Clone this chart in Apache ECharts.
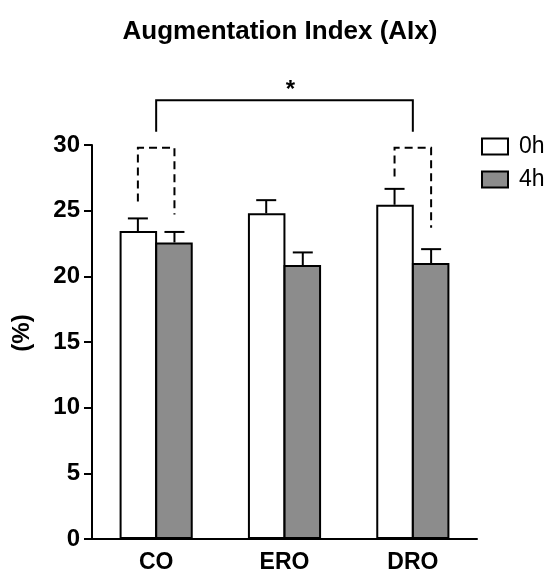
<!DOCTYPE html>
<html>
<head>
<meta charset="utf-8">
<script src="https://cdn.jsdelivr.net/npm/echarts@6/dist/echarts.min.js"></script>
<style>html,body{margin:0;padding:0;background:#fff;}#c{width:550px;height:574px;}</style>
</head>
<body>
<div id="c"></div>
<script>
// ---- data ----
const categories = ['CO', 'ERO', 'DRO'];
const seriesNames = ['0h', '4h'];
const mean0h = [23.45, 24.8, 25.45];
const mean4h = [22.58, 20.86, 21.01];
const sem0h = [0.96, 1.0, 1.21];
const sem4h = [0.8, 0.96, 1.06];
const yTicks = [0, 5, 10, 15, 20, 25, 30];
// significance bracket (solid) between CO and DRO
const sigCats = ['CO', 'DRO'];
const sigTop = 33.4;
const sigLegEnd = [31.0, 31.0];
const sigLabel = '*';
const sigLabelY = 34.5;
// dashed within-group brackets
const dashCats = ['CO', 'DRO'];
const dashTop = [29.8, 29.8];
const dashLeg0h = [25.7, 27.6];
const dashLeg4h = [24.7, 23.7];

const BAR_FRAC = 0.285; // bar width as fraction of category width
const gap = '43%';

const chart = echarts.init(document.getElementById('c'), null, {renderer: 'canvas'});
const FONT = 'Liberation Sans, Arial, sans-serif';

function errRender(sign) {
  return function (params, api) {
    const ci = api.value(0);
    const p0 = api.coord([ci, api.value(1)]);
    const p1 = api.coord([ci, api.value(2)]);
    const cw = api.size([1, 0])[0];
    const x = p0[0] + sign * cw * BAR_FRAC / 2;
    const cap = 10;
    return {
      type: 'group',
      children: [
        {type: 'line', shape: {x1: x, y1: p0[1], x2: x, y2: p1[1]}, style: {stroke: '#000', lineWidth: 2}},
        {type: 'line', shape: {x1: x - cap, y1: p1[1], x2: x + cap, y2: p1[1]}, style: {stroke: '#000', lineWidth: 2}}
      ]
    };
  };
}

const option = {
  animation: false,
  backgroundColor: '#fff',
  title: {
    text: 'Augmentation Index (AIx)',
    left: 275, top: 14, textAlign: 'center',
    textStyle: {fontFamily: FONT, fontWeight: 'bold', fontSize: 26, color: '#000'}
  },
  legend: {
    orient: 'vertical', left: 481, top: 135, padding: 0,
    itemWidth: 26, itemHeight: 16, itemGap: 10,
    data: [
      {name: '0h', icon: 'rect', itemStyle: {color: '#fff', borderColor: '#000', borderWidth: 2}},
      {name: '4h', icon: 'rect', itemStyle: {color: '#8c8c8c', borderColor: '#000', borderWidth: 2}}
    ],
    textStyle: {fontFamily: FONT, fontSize: 23, color: '#000', padding: [0, 0, 0, 6]}
  },
  grid: {left: 92, right: 73, top: 145, bottom: 32, containLabel: false},
  xAxis: {
    type: 'category', data: categories,
    axisLine: {lineStyle: {color: '#000', width: 2}},
    axisTick: {show: false},
    axisLabel: {fontFamily: FONT, fontWeight: 'bold', fontSize: 23, color: '#000', margin: 12}
  },
  yAxis: {
    type: 'value', min: yTicks[0], max: yTicks[yTicks.length - 1], interval: yTicks[1] - yTicks[0],
    name: '(%)', nameLocation: 'middle', nameGap: 58, nameRotate: 90,
    nameTextStyle: {fontFamily: FONT, fontWeight: 'bold', fontSize: 24, color: '#000', padding: [0, 0, 0, 18]},
    axisLine: {show: true, lineStyle: {color: '#000', width: 2}},
    axisTick: {show: true, length: 8, lineStyle: {color: '#000', width: 2}},
    axisLabel: {fontFamily: FONT, fontWeight: 'bold', fontSize: 24, color: '#000', margin: 12},
    splitLine: {show: false}
  },
  series: [
    {name: seriesNames[0], type: 'bar', data: mean0h, barGap: '-5%', barCategoryGap: gap,
      itemStyle: {color: '#fff', borderColor: '#000', borderWidth: 2}},
    {name: seriesNames[1], type: 'bar', data: mean4h, barGap: '-5%', barCategoryGap: gap,
      itemStyle: {color: '#8c8c8c', borderColor: '#000', borderWidth: 2}},
    {type: 'custom', name: 'err0', renderItem: errRender(-1), clip: false, z: 3,
      data: categories.map((c, i) => [i, mean0h[i], mean0h[i] + sem0h[i]])},
    {type: 'custom', name: 'err4', renderItem: errRender(1), clip: false, z: 3,
      data: categories.map((c, i) => [i, mean4h[i], mean4h[i] + sem4h[i]])},
    {type: 'custom', name: 'dash', clip: false, z: 3,
      data: dashCats.map((c, i) => [categories.indexOf(c), dashTop[i], dashLeg0h[i], dashLeg4h[i]]),
      renderItem: function (params, api) {
        const ci = api.value(0);
        const pt = api.coord([ci, api.value(1)]);
        const y0 = api.coord([ci, api.value(2)])[1];
        const y4 = api.coord([ci, api.value(3)])[1];
        const cw = api.size([1, 0])[0];
        const x0 = pt[0] - cw * BAR_FRAC / 2, x1 = pt[0] + cw * BAR_FRAC / 2;
        return {type: 'polyline', shape: {points: [[x0, y0], [x0, pt[1]], [x1, pt[1]], [x1, y4]]},
          style: {stroke: '#000', lineWidth: 2, lineDash: [8, 5], fill: null}};
      }},
    {type: 'custom', name: 'sig', clip: false, z: 3,
      data: [[categories.indexOf(sigCats[0]), categories.indexOf(sigCats[1]), sigTop, sigLegEnd[0], sigLegEnd[1], sigLabelY]],
      renderItem: function (params, api) {
        const a = api.coord([api.value(0), api.value(2)]);
        const b = api.coord([api.value(1), api.value(2)]);
        const ya = api.coord([api.value(0), api.value(3)])[1];
        const yb = api.coord([api.value(1), api.value(4)])[1];
        const ys = api.coord([api.value(0), api.value(5)])[1];
        return {type: 'group', children: [
          {type: 'polyline', shape: {points: [[a[0], ya], [a[0], a[1]], [b[0], b[1]], [b[0], yb]]},
            style: {stroke: '#000', lineWidth: 2, fill: null}},
          {type: 'text', style: {text: sigLabel, x: (a[0] + b[0]) / 2 + 6, y: ys + 4, textAlign: 'center', textVerticalAlign: 'middle',
            font: 'bold 24px ' + FONT, fill: '#000'}}
        ]};
      }}
  ]
};
chart.setOption(option);
</script>
</body>
</html>
